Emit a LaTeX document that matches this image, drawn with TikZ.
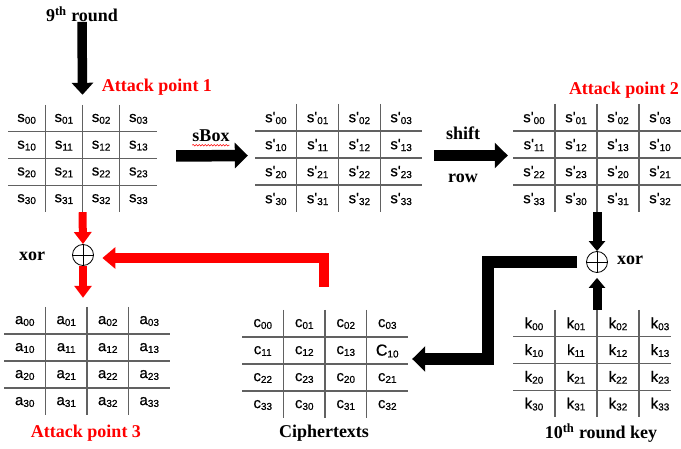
\documentclass[tikz,border=0pt]{standalone}
\usepackage{fontspec}
\setmainfont{Liberation Serif}
\newfontfamily\cellfont[FakeBold=0.5]{Liberation Sans}
\usetikzlibrary{arrows.meta,fit,decorations.pathmorphing,calc}

\newcommand\cellsub[1]{\raisebox{-1.8pt}{\fontsize{10}{10}\selectfont #1}}
\newcommand\Sx[1]{s\cellsub{#1}}
\newcommand\Sp[1]{s'\cellsub{#1}}
\newcommand\Ax[1]{a\cellsub{#1}}
\newcommand\Cx[1]{c\cellsub{#1}}
\newcommand\Kx[1]{k\cellsub{#1}}

\tikzset{
  gridline/.style={draw=black!62, line width=1.1pt},
  cell/.style={inner sep=0pt, font=\cellfont\fontsize{15}{15}\selectfont},
  lbl/.style={inner sep=0pt, font=\bfseries\fontsize{18}{18}\selectfont},
  redlbl/.style={lbl, text=red},
  xorc/.style={circle, draw=black, line width=0.8pt, minimum size=21pt, inner sep=0pt,
    path picture={\draw[line width=0.8pt] (path picture bounding box.north) -- (path picture bounding box.south)
      (path picture bounding box.west) -- (path picture bounding box.east);}},
  bigarrow/.style={draw=black, line width=11.5pt, line join=miter, -{Triangle[length=13pt,width=25pt]}},
  midarrow/.style={draw=black, line width=9.5pt, -{Triangle[length=12pt,width=21pt]}},
  smallarrow/.style={draw=black, line width=9pt, -{Triangle[length=10pt,width=16pt]}},
  redsmall/.style={draw=red, line width=8pt, -{Triangle[length=12pt,width=17pt]}},
  redbig/.style={draw=red, line width=10.5pt, line join=miter, -{Triangle[length=13pt,width=21pt]}},
}

\newcommand\mkgrid[7]{%
  \coordinate (#1-nw) at (#2,#4);
  \coordinate (#1-se) at (#3,#5);
  \node[fit=(#1-nw)(#1-se), inner sep=0pt] (#1) {};
  \foreach \i in {1,2,3}{
    \draw[gridline] ({#2+\i*(#3-#2)/4},#4) -- ({#2+\i*(#3-#2)/4},#5);
    \draw[gridline] (#2,{#4+\i*(#5-#4)/4}) -- (#6,{#4+\i*(#5-#4)/4});
  }
  \foreach \t [count=\n from 0] in {#7}{
    \pgfmathtruncatemacro\cc{mod(\n,4)}
    \pgfmathtruncatemacro\rr{int(\n/4)}
    \node[cell] (#1-\n) at ({#2+(\cc+0.5)*(#3-#2)/4},{#4+(\rr+0.5)*(#5-#4)/4+0.5}) {\t};
  }
}

\begin{document}
\begin{tikzpicture}[x=1pt,y=-1pt]
\useasboundingbox[fill=white] (0,0) rectangle (681,449);

% grids
\mkgrid{S}{8}{157}{105}{212}{157}{\Sx{00},\Sx{01},\Sx{02},\Sx{03},\Sx{10},\Sx{11},\Sx{12},\Sx{13},\Sx{20},\Sx{21},\Sx{22},\Sx{23},\Sx{30},\Sx{31},\Sx{32},\Sx{33}}
\mkgrid{SB}{255}{422}{104}{212}{422}{\Sp{00},\Sp{01},\Sp{02},\Sp{03},\Sp{10},\Sp{11},\Sp{12},\Sp{13},\Sp{20},\Sp{21},\Sp{22},\Sp{23},\Sp{30},\Sp{31},\Sp{32},\Sp{33}}
\mkgrid{SR}{513}{681}{104}{212}{681}{\Sp{00},\Sp{01},\Sp{02},\Sp{03},\Sp{11},\Sp{12},\Sp{13},\Sp{10},\Sp{22},\Sp{23},\Sp{20},\Sp{21},\Sp{33},\Sp{30},\Sp{31},\Sp{32}}
\mkgrid{A}{4}{170}{307}{415}{170}{\Ax{00},\Ax{01},\Ax{02},\Ax{03},\Ax{10},\Ax{11},\Ax{12},\Ax{13},\Ax{20},\Ax{21},\Ax{22},\Ax{23},\Ax{30},\Ax{31},\Ax{32},\Ax{33}}
\mkgrid{C}{242}{408}{310}{418}{408}{\Cx{00},\Cx{01},\Cx{02},\Cx{03},\Cx{11},\Cx{12},\Cx{13},{\fontsize{16}{16}\selectfont C\cellsub{10}},\Cx{22},\Cx{23},\Cx{20},\Cx{21},\Cx{33},\Cx{30},\Cx{31},\Cx{32}}
\mkgrid{K}{513}{681}{310}{417}{671}{\Kx{00},\Kx{01},\Kx{02},\Kx{03},\Kx{10},\Kx{11},\Kx{12},\Kx{13},\Kx{20},\Kx{21},\Kx{22},\Kx{23},\Kx{30},\Kx{31},\Kx{32},\Kx{33}}

% labels
\node[lbl] (r9) at (82,14) {9\textsuperscript{th} round};
\node[redlbl] (ap1) at (157,87) {Attack point 1};
\node[redlbl] (ap2) at (624,90) {Attack point 2};
\node[redlbl] (ap3) at (86,433) {Attack point 3};
\node[lbl] (ct) at (324,433) {Ciphertexts};
\node[lbl] (rk) at (601,433) {10\textsuperscript{th} round key};
\node[lbl] (sbox) at (211,136) {sBox};
\node[lbl] (shift) at (463,133) {shift};
\node[lbl] (row) at (463,178) {row};
\node[lbl] (xorl) at (32,256) {xor};
\node[lbl] (xorr) at (630,260) {xor};
\draw[red, line width=0.5pt, decorate, decoration={snake, amplitude=0.8pt, segment length=3pt}]
  ($(sbox.south west)+(0,3)$) -- ($(sbox.south east)+(0,3)$);

% xor circles
\node[xorc] (x1) at (83,255) {};
\node[xorc] (x2) at (597,262) {};

% black arrows
\draw[midarrow] (r9.south) -- ($(S.north)+(0,-10)$);
\draw[bigarrow] ($(S.east)+(19,-2.5)$) -- ($(SB.west)+(-7,-2.5)$);
\draw[bigarrow] ($(SB.east)+(12,-2.5)$) -- ($(SR.west)+(-5,-2.5)$);
\draw[smallarrow] (SR.south) -- (x2.north);
\draw[smallarrow] (K.north) -- ($(x2.south)+(0,5)$);
\coordinate (bk1) at (488,262);
\coordinate (bk2) at (488,359);
\draw[bigarrow] ($(x2.west)+(-9,0)$) -- (bk1) -- (bk2) -- ($(C.east|-bk2)+(4,0)$);

% red arrows
\draw[redsmall] (S.south) -- (x1.north);
\draw[redsmall] (x1.south) -- ($(x1.south|-A.north)+(0,-9)$);
\coordinate (rd1) at (324,287);
\coordinate (rd2) at (324,258);
\draw[redbig] (rd1) -- (rd2) -- ($(x1.east|-rd2)+(8.5,0)$);
\end{tikzpicture}
\end{document}
